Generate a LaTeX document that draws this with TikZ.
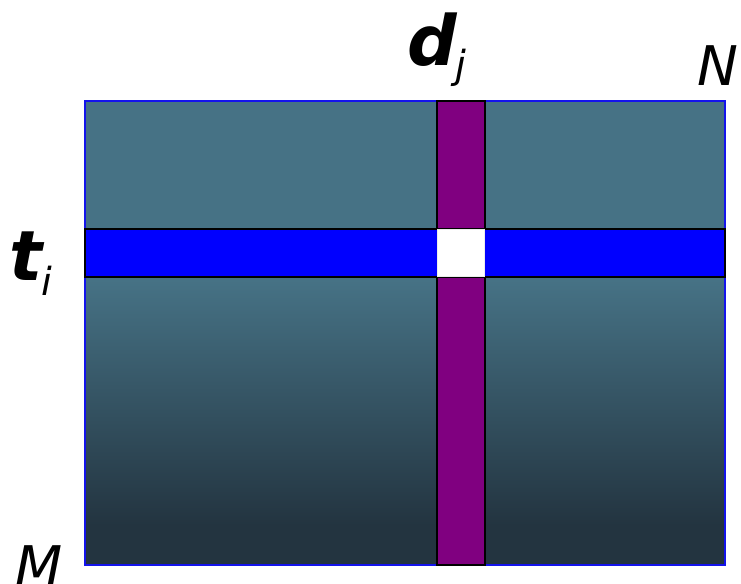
\documentclass[tikz,border=0pt]{standalone}
\usepackage{fontspec}
\setmainfont{DejaVu Sans}
\usetikzlibrary{positioning}
\definecolor{cTop}{RGB}{70,114,133}
\definecolor{cBottom}{RGB}{35,52,64}
\definecolor{cRow}{RGB}{0,0,255}
\definecolor{cCol}{RGB}{128,0,128}
\definecolor{cEdge}{RGB}{20,20,235}

\tikzset{
  bigvar/.style={anchor=base west,inner sep=0pt,font=\fontsize{52}{60}\selectfont\bfseries\itshape},
  subvar/.style={anchor=base west,inner sep=0pt,font=\fontsize{29}{34}\selectfont\itshape},
  dimvar/.style={anchor=base west,inner sep=0pt,font=\fontsize{41}{48}\selectfont\itshape},
  band/.style={draw=black,line width=1.5pt}
}

\begin{document}
\begin{tikzpicture}[x=0.75pt,y=-0.75pt]
  \useasboundingbox (0,0) rectangle (741,583);
  % term-document matrix
  \fill[cTop] (85,101) rectangle (725,281);
  \shade[top color=cTop,bottom color=cBottom] (85,280) rectangle (725,525);
  \fill[cBottom] (85,524) rectangle (725,565);
  \draw[cEdge,line width=1.5pt] (85,101) rectangle (725,565);
  % column d_j and row t_i
  \draw[band,fill=cCol] (437,101) rectangle (485,565);
  \draw[band,fill=cRow] (85,229) rectangle (725,277);
  \draw[gray!15,line width=1pt,fill=white] (437.5,229.5) rectangle (484.5,276.5);
  % labels
  \node[bigvar] (dlab) at (407,65) {d};
  \node[subvar] (jlab) at (455,78) {j};
  \node[dimvar] (nlab) at (697,85) {N};
  \node[bigvar] (tlab) at (9,280) {t};
  \node[subvar] (ilab) at (41,295) {i};
  \node[dimvar] (mlab) at (15,585) {M};
\end{tikzpicture}
\end{document}
